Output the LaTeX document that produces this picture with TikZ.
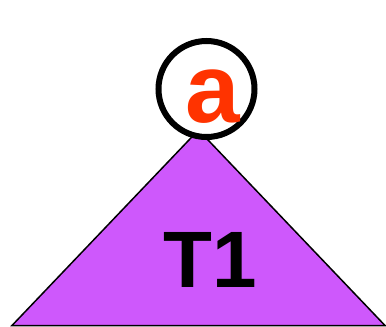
\documentclass[tikz,border=0pt]{standalone}
\usepackage{fontspec}
\setmainfont{Liberation Sans}
\usepackage{tikz}
\definecolor{treepurple}{RGB}{206,88,252}
\definecolor{keyred}{RGB}{255,51,0}
\tikzset{
    rootnode/.style={circle,draw=black,line width=6pt,fill=white,minimum size=96pt,inner sep=0pt},
    subtree/.style={draw=black,line width=1.5pt,fill=treepurple,line join=miter},
}

\begin{document}
\begin{tikzpicture}[x=1pt,y=-1pt]
    \useasboundingbox (0,0) rectangle (386,327);
    \coordinate (top) at (198.5,130);
    \coordinate (left) at (12,325.5);
    \coordinate (right) at (385,325.5);

    \path[subtree] (top) -- (left) -- (right) -- cycle;
    \node[rootnode] (root) at (206.5,89) {};

    \node (key) at (212.5,97) {\fontsize{98pt}{98pt}\selectfont\bfseries\color{keyred}a};
    \node (t1) at (210.5,259.5) {\fontsize{80pt}{80pt}\selectfont\bfseries T1};
  \end{tikzpicture}
\end{document}
